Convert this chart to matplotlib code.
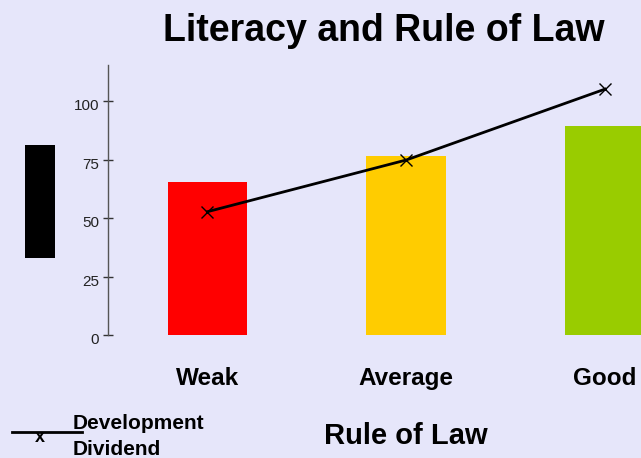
import matplotlib
matplotlib.use("Agg")
import matplotlib.pyplot as plt
from matplotlib.patches import Rectangle
from matplotlib.lines import Line2D
from matplotlib.transforms import ScaledTranslation

categories = ["Weak", "Average", "Good"]
literacy = [65.4, 76.5, 89.3]
dividend = [52.7, 74.8, 105.1]
bar_colors = ["#FF0000", "#FFCC00", "#99CC00"]
yticks = [0, 25, 50, 75, 100]

plt.rcParams['font.family'] = ['Liberation Sans', 'DejaVu Sans']
BG = "#E6E6FA"
W, H = 641, 458
fig = plt.figure(figsize=(W / 100, H / 100), dpi=100, facecolor=BG)

def fx(px):
    return px / W

def fy(py):
    return 1 - py / H

ax = fig.add_axes([fx(108), fy(335), fx(704.5) - fx(108), fy(65) - fy(335)])
ax.set_facecolor(BG)
ax.patch.set_alpha(0)

x = list(range(len(categories)))
ax.bar(x, literacy, width=0.4, color=bar_colors)
ax.plot(x, dividend, color="black", lw=2.0, marker="x", markersize=9,
        markeredgewidth=1.0, clip_on=False, zorder=3)

ax.set_xlim(-0.5, 2.5)
ax.set_ylim(0, 115.4)
for s in ["top", "right", "bottom"]:
    ax.spines[s].set_visible(False)
ax.spines["left"].set_color("#555555")
ax.spines["left"].set_linewidth(1.0)

ax.set_yticks(yticks)
ax.set_yticklabels([str(v) for v in yticks], fontsize=11, color="#222222")
ax.tick_params(axis="y", direction="inout", length=7, width=1.0, color="#333333", pad=3)
shift = ScaledTranslation(0, -3.5 / 100, fig.dpi_scale_trans)
for lab in ax.get_yticklabels():
    lab.set_transform(lab.get_transform() + shift)

ax.set_xticks(x)
ax.set_xticklabels(categories, fontsize=17.5, fontweight="bold")
ax.tick_params(axis="x", length=0, pad=23)

ax.set_xlabel("Rule of Law", fontsize=21, fontweight="bold", labelpad=23)

fig.text(fx(384), fy(31), "Literacy and Rule of Law", fontsize=27, fontweight="bold",
         ha="center", va="center")

# black block on the left
fig.patches.append(Rectangle((fx(25), fy(258)), fx(30), fy(145) - fy(258),
                             transform=fig.transFigure, facecolor="black", edgecolor="none"))

# legend
fig.add_artist(Line2D([fx(12), fx(82)], [fy(432), fy(432)], transform=fig.transFigure,
                      color="black", lw=2.0))
fig.text(fx(40), fy(437), "x", fontsize=13, fontweight="bold", ha="center", va="center")
fig.text(fx(73), fy(429), "Development", fontsize=15, fontweight="bold",
         ha="left", va="baseline")
fig.text(fx(73), fy(455), "Dividend", fontsize=15, fontweight="bold",
         ha="left", va="baseline")

fig.savefig("out.png", dpi=100, facecolor=BG)
